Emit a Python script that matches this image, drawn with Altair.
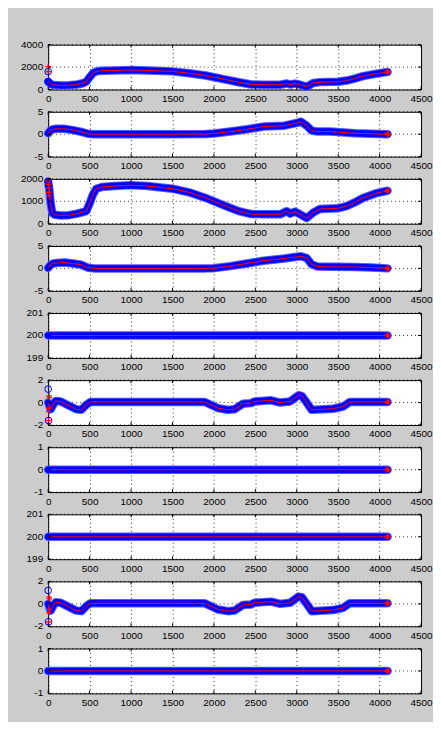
import altair as alt
import pandas as pd

# ---------------- data ----------------
X_TICKS = [0, 500, 1000, 1500, 2000, 2500, 3000, 3500, 4000, 4500]

# signal A (panels 1 and 3)
xa = [0, 15, 30, 50, 80, 150, 250, 350, 420, 460, 500, 540, 580, 650, 800, 1000,
      1200, 1500, 1700, 1900, 2100, 2300, 2450, 2600, 2800, 2880, 2920, 2980, 3040,
      3120, 3200, 3280, 3500, 3600, 3700, 3800, 3950, 4096]
p1_y = [700, 600, 500, 430, 400, 370, 380, 450, 560, 700, 1100, 1450, 1620, 1680, 1700, 1750,
        1700, 1620, 1450, 1250, 950, 650, 450, 430, 430, 540, 450, 530, 430,
        240, 590, 660, 690, 800, 980, 1200, 1400, 1570]
p3_y = [1880, 1500, 900, 480, 400, 370, 380, 450, 520, 560, 900, 1300, 1560, 1640, 1680, 1720,
        1680, 1560, 1400, 1150, 850, 560, 430, 420, 420, 560, 450, 540, 420,
        250, 500, 660, 690, 780, 950, 1150, 1350, 1470]

# signal B (panels 2 and 4)
xb = [0, 30, 60, 100, 200, 300, 400, 480, 550, 1000, 1500, 1900, 2000, 2200, 2400,
      2600, 2850, 3000, 3050, 3120, 3180, 3250, 3400, 3700, 3900, 4096]
p2_y = [0.2, 0.9, 1.1, 1.2, 1.2, 0.9, 0.5, 0.1, 0.0, 0.0, 0.0, 0.05, 0.15, 0.6, 1.1,
        1.7, 1.9, 2.5, 2.8, 1.9, 0.8, 0.6, 0.6, 0.2, 0.1, 0.0]
p4_y = [0.1, 0.8, 1.1, 1.2, 1.3, 1.1, 0.8, 0.15, 0.0, 0.0, 0.0, 0.0, 0.05, 0.5, 1.1,
        1.7, 2.2, 2.6, 2.7, 2.3, 0.9, 0.4, 0.35, 0.3, 0.2, 0.0]

# signal C (panels 6 and 9)
xc = [0, 15, 30, 60, 90, 150, 230, 340, 400, 460, 510, 1000, 1500, 1890, 2050, 2170,
      2250, 2350, 2450, 2490, 2690, 2800, 2920, 3020, 3060, 3120, 3180, 3440, 3560,
      3640, 4096]
p6_y = [0.0, -0.3, -0.6, -0.2, 0.15, 0.1, -0.2, -0.6, -0.65, -0.2, 0.05, 0.05, 0.05,
        0.05, -0.5, -0.65, -0.6, -0.1, -0.05, 0.1, 0.2, 0.0, 0.1, 0.65, 0.6, 0.0,
        -0.65, -0.55, -0.35, 0.05, 0.05]
p9_y = p6_y

# constant panels
xk = [0, 4096]
p5_y = [200.0, 200.0]
p7_y = [0.0, 0.0]
p8_y = [200.0, 200.0]
p10_y = [0.0, 0.0]

# start-up outliers (blue open circles / red plus markers)
p1_circ_x, p1_circ_y = [0, 0], [1600, 700]
p1_plus_x, p1_plus_y = [0, 0], [2050, 1600]
p3_circ_x, p3_circ_y = [0, 5], [1880, 1700]
p3_plus_x, p3_plus_y = [0, 5, 8, 10, 12], [1900, 1750, 1600, 1400, 1250]
p6_circ_x, p6_circ_y = [0, 5], [1.2, -1.6]
p6_plus_x, p6_plus_y = [10, 15, 5, 10, 5], [0.6, 0.45, -0.5, -0.8, -1.6]

# axis ranges and tick labels
ranges = [
    ([0, 4000], [0, 2000, 4000]),
    ([-5, 5], [-5, 0, 5]),
    ([0, 2000], [0, 1000, 2000]),
    ([-5, 5], [-5, 0, 5]),
    ([199, 201], [199, 200, 201]),
    ([-2, 2], [-2, 0, 2]),
    ([-1, 1], [-1, 0, 1]),
    ([199, 201], [199, 200, 201]),
    ([-2, 2], [-2, 0, 2]),
    ([-1, 1], [-1, 0, 1]),
]

series = [
    (xa, p1_y, (p1_circ_x, p1_circ_y), (p1_plus_x, p1_plus_y)),
    (xb, p2_y, None, None),
    (xa, p3_y, (p3_circ_x, p3_circ_y), (p3_plus_x, p3_plus_y)),
    (xb, p4_y, None, None),
    (xk, p5_y, None, None),
    (xc, p6_y, (p6_circ_x, p6_circ_y), (p6_plus_x, p6_plus_y)),
    (xk, p7_y, None, None),
    (xk, p8_y, None, None),
    (xc, p9_y, (p6_circ_x, p6_circ_y), (p6_plus_x, p6_plus_y)),
    (xk, p10_y, None, None),
]

FONT = "Liberation Sans"
FS = 10
PLUS = "M-1,0L1,0M0,-1L0,1"
W, H = 374, 45
TICK = 3


def panel(xs, ys, ydom, yticks, circ, plus):
    df = pd.DataFrame({"x": xs, "y": ys})
    xsc = alt.Scale(domain=[0, 4500], nice=False, zero=False)
    ysc = alt.Scale(domain=ydom, nice=False, zero=False)
    xe = alt.X("x:Q", scale=xsc,
               axis=alt.Axis(values=X_TICKS, tickCount=20, title=None, labelFlush=False,
                             labelOverlap=False, format="d"))
    ye = alt.Y("y:Q", scale=ysc, axis=None)

    ydf = pd.DataFrame({"y": yticks, "lab": [str(v) for v in yticks]})
    xdf = pd.DataFrame({"x": X_TICKS})

    ygrid = alt.Chart(ydf).mark_rule(color="#000000", strokeDash=[1, 3], strokeWidth=0.8).encode(
        y=alt.Y("y:Q", scale=ysc, axis=None), x=alt.value(0), x2=alt.value(W))
    ylab = alt.Chart(ydf).mark_text(font=FONT, fontSize=FS, align="right", baseline="middle",
                                    color="#000000", dx=-5).encode(
        y=alt.Y("y:Q", scale=ysc, axis=None), x=alt.value(0), text="lab:N")
    ytick_l = alt.Chart(ydf).mark_rule(color="#000000", strokeWidth=1).encode(
        y=alt.Y("y:Q", scale=ysc, axis=None), x=alt.value(0), x2=alt.value(TICK))
    ytick_r = alt.Chart(ydf).mark_rule(color="#000000", strokeWidth=1).encode(
        y=alt.Y("y:Q", scale=ysc, axis=None), x=alt.value(W - TICK), x2=alt.value(W))
    xtick_b = alt.Chart(xdf).mark_rule(color="#000000", strokeWidth=1).encode(
        x=alt.X("x:Q", scale=xsc), y=alt.value(H - TICK), y2=alt.value(H))
    xtick_t = alt.Chart(xdf).mark_rule(color="#000000", strokeWidth=1).encode(
        x=alt.X("x:Q", scale=xsc), y=alt.value(0), y2=alt.value(TICK))

    halo = alt.Chart(df).mark_line(color="#5a5aff", strokeWidth=8.5, strokeCap="round",
                                   strokeJoin="round", clip=False).encode(x=xe, y=ye)
    band = alt.Chart(df).mark_line(color="#0000ff", strokeWidth=6.5, strokeCap="round",
                                   strokeJoin="round", clip=False).encode(x=xe, y=ye)
    red = alt.Chart(df).mark_line(color="#ff0000", strokeWidth=1).encode(x=xe, y=ye)
    end = alt.Chart(df.tail(1)).mark_point(shape="diamond", filled=True, color="#ff0000",
                                           size=45, opacity=1).encode(x=xe, y=ye)
    layers = [ygrid, halo, band, red]
    if circ is not None:
        cdf = pd.DataFrame({"x": circ[0], "y": circ[1]})
        layers.append(alt.Chart(cdf).mark_point(shape="circle", filled=False, color="#0000ff",
                                                size=45, strokeWidth=1, opacity=1, clip=False)
                      .encode(x=xe, y=ye))
    if plus is not None:
        pdf = pd.DataFrame({"x": plus[0], "y": plus[1]})
        layers.append(alt.Chart(pdf).mark_point(shape=PLUS, filled=False, color="#ff0000",
                                                size=30, strokeWidth=1.2, opacity=1, clip=False)
                      .encode(x=xe, y=ye))
    layers += [end, ytick_l, ytick_r, xtick_b, xtick_t, ylab]
    return alt.layer(*layers).properties(width=W, height=H)


panels = [panel(s[0], s[1], r[0], r[1], s[2], s[3]) for s, r in zip(series, ranges)]

chart = alt.vconcat(*panels, spacing=22.3, bounds="flush").properties(
    background="#cccccc",
    padding={"left": 12.3, "top": 29.7, "right": 0, "bottom": 12},
).configure_view(
    stroke="#000000", strokeWidth=1, fill="#ffffff"
).configure_axis(
    grid=True, gridColor="#000000", gridDash=[1, 3], gridOpacity=1, gridWidth=0.8,
    domain=False, ticks=False, labelFont=FONT, labelFontSize=FS, labelColor="#000000",
    labelPadding=4,
)

chart.save("out.html", embed_options={"renderer": "svg", "actions": False})
